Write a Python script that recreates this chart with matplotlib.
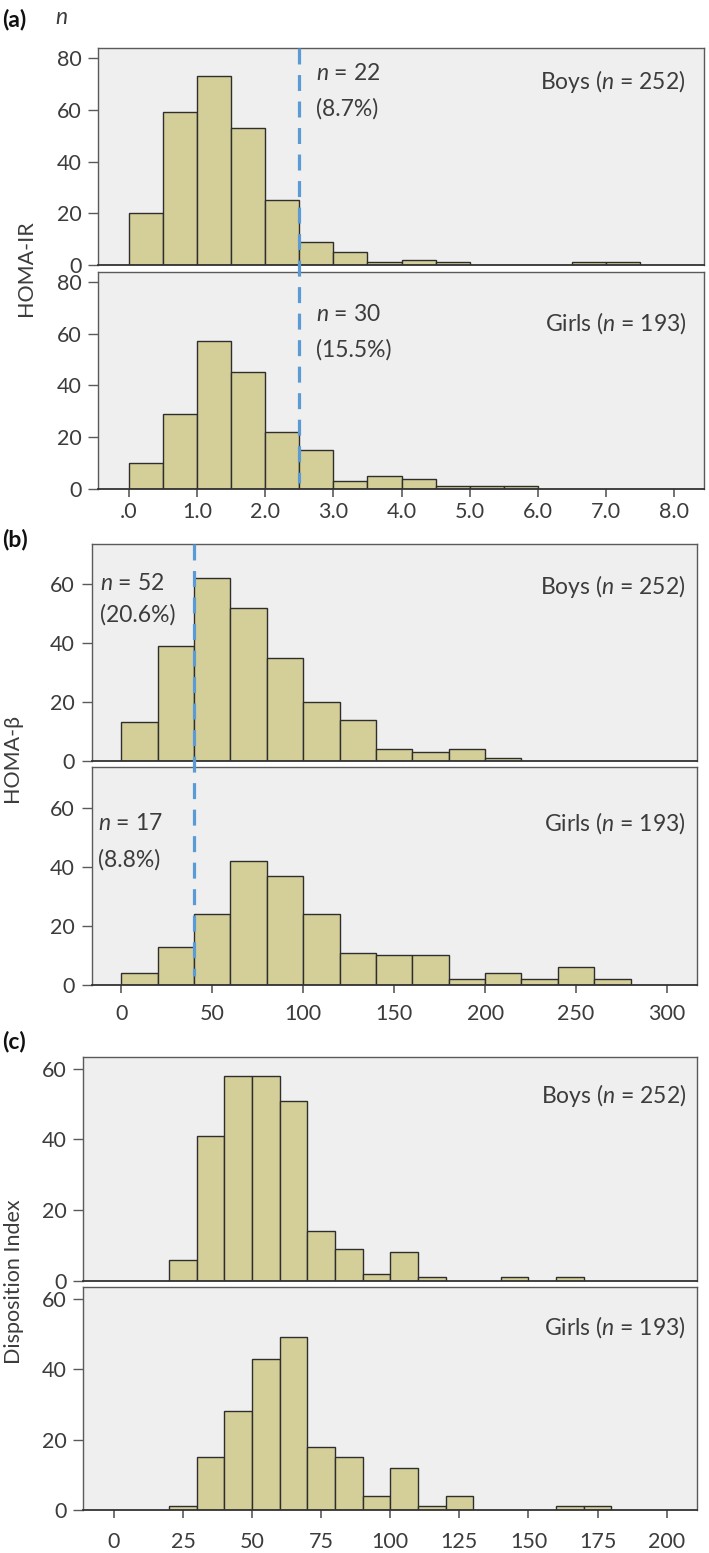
import numpy as np
import matplotlib
matplotlib.use("Agg")
import matplotlib.pyplot as plt
from matplotlib.lines import Line2D
from matplotlib.transforms import blended_transform_factory

plt.rcParams['font.family'] = ['Lato', 'DejaVu Sans']
plt.rcParams['mathtext.fontset'] = 'custom'
plt.rcParams['mathtext.it'] = 'Lato:italic'
plt.rcParams['mathtext.rm'] = 'Lato'

# HOMA-IR, bins of 0.5
ir_left = [0.0, 0.5, 1.0, 1.5, 2.0, 2.5, 3.0, 3.5, 4.0, 4.5, 5.0, 5.5, 6.0, 6.5, 7.0]
ir_boys = [20, 59, 73, 53, 25, 9, 5, 1, 2, 1, 0, 0, 0, 1, 1]
ir_girls = [10, 29, 57, 45, 22, 15, 3, 5, 4, 1, 1, 1, 0, 0, 0]
ir_ticks = [0, 1, 2, 3, 4, 5, 6, 7, 8]
ir_ticklabels = [".0", "1.0", "2.0", "3.0", "4.0", "5.0", "6.0", "7.0", "8.0"]
ir_cut = 2.5

# HOMA-beta, bins of 20
beta_left = [0, 20, 40, 60, 80, 100, 120, 140, 160, 180, 200, 220, 240, 260]
beta_boys = [13, 39, 62, 52, 35, 20, 14, 4, 3, 4, 1, 0, 0, 0]
beta_girls = [4, 13, 24, 42, 37, 24, 11, 10, 10, 2, 4, 2, 6, 2]
beta_ticks = [0, 50, 100, 150, 200, 250, 300]
beta_cut = 40

# disposition index, bins of 10
di_left = [20, 30, 40, 50, 60, 70, 80, 90, 100, 110, 120, 130, 140, 150, 160, 170]
di_boys = [6, 41, 58, 58, 51, 14, 9, 2, 8, 1, 0, 0, 1, 0, 1, 0]
di_girls = [1, 15, 28, 43, 49, 18, 15, 4, 12, 1, 4, 0, 0, 0, 1, 1]
di_ticks = [0, 25, 50, 75, 100, 125, 150, 175, 200]

bar_color = "#d4cf98"
bar_edge = "#2e2e2e"
bg_color = "#efefef"
frame_color = "#5a5a5a"
cut_color = "#5b9bd5"
txt_color = "#3c3c3c"
fs = 15.5       # tick labels / axis labels
fs_note = 16.5  # annotations

W, H = 709, 1553
fig = plt.figure(figsize=(W / 100, H / 100), dpi=100)


def px_axes(left, right, top, bottom):
    return fig.add_axes([left / W, 1 - bottom / H, (right - left) / W, (bottom - top) / H])


def hist(ax, left, counts, width, xlim, ylim, yticks, xticks=None, xticklabels=None, xpad=4):
    lefts = [l for l, c in zip(left, counts) if c > 0]
    heights = [c for c in counts if c > 0]
    ax.bar(lefts, heights, width=width, align="edge", color=bar_color,
           edgecolor=bar_edge, linewidth=1.0, zorder=2)
    ax.set_facecolor(bg_color)
    ax.set_xlim(*xlim)
    ax.set_ylim(*ylim)
    ax.set_yticks(yticks)
    ax.tick_params(axis="y", length=7, width=1, pad=5, colors=frame_color,
                   labelsize=fs, labelcolor=txt_color)
    if xticks is None:
        ax.set_xticks([])
    else:
        ax.set_xticks(xticks)
        if xticklabels is not None:
            ax.set_xticklabels(xticklabels)
        ax.tick_params(axis="x", length=6, width=1.2, pad=xpad, colors=frame_color,
                       labelsize=fs, labelcolor=txt_color)
    for s in ax.spines.values():
        s.set_color(frame_color)
        s.set_linewidth(1.0)
    ax.spines["bottom"].set_color("#333333")
    ax.spines["bottom"].set_linewidth(1.3)


def note(ax, x, y, s, ha="left"):
    ax.text(x, y, s, transform=ax.transAxes, ha=ha, va="center",
            fontsize=fs_note, color=txt_color, zorder=5)


def cut_line(ax, x, y_top, y_bottom):
    tr = blended_transform_factory(ax.transData, fig.transFigure)
    ln = Line2D([x, x], [1 - y_top / H, 1 - y_bottom / H], transform=tr,
                color=cut_color, linewidth=2.3, linestyle=(0, (5, 3.3)), zorder=10)
    fig.add_artist(ln)


# panel (a)
a1 = px_axes(98, 704, 48.3, 265)
a2 = px_axes(98, 704, 272, 489)
hist(a1, ir_left, ir_boys, 0.5, (-0.455, 8.44), (0, 83.8), [0, 20, 40, 60, 80])
hist(a2, ir_left, ir_girls, 0.5, (-0.455, 8.44), (0, 83.8), [0, 20, 40, 60, 80],
     ir_ticks, ir_ticklabels, xpad=3)
note(a1, 0.359, 0.885, "$n$ = 22")
note(a1, 0.359, 0.723, "(8.7%)")
note(a1, 0.970, 0.846, "Boys ($n$ = 252)", ha="right")
note(a2, 0.359, 0.802, "$n$ = 30")
note(a2, 0.359, 0.641, "(15.5%)")
note(a2, 0.971, 0.764, "Girls ($n$ = 193)", ha="right")
cut_line(a2, ir_cut, 48.3, 483)

# panel (b)
b1 = px_axes(91.7, 697, 544, 760.7)
b2 = px_axes(91.7, 697, 767.3, 985)
hist(b1, beta_left, beta_boys, 20, (-16.3, 316.5), (0, 73.7), [0, 20, 40, 60])
hist(b2, beta_left, beta_girls, 20, (-16.3, 316.5), (0, 73.7), [0, 20, 40, 60],
     beta_ticks, xpad=8)
note(b1, 0.014, 0.819, "$n$ = 52")
note(b1, 0.014, 0.672, "(20.6%)")
note(b1, 0.981, 0.803, "Boys ($n$ = 252)", ha="right")
note(b2, 0.011, 0.743, "$n$ = 17")
note(b2, 0.011, 0.574, "(8.8%)")
note(b2, 0.981, 0.743, "Girls ($n$ = 193)", ha="right")
cut_line(b2, beta_cut, 544, 976)

# panel (c)
c1 = px_axes(83.3, 696.7, 1056.7, 1280.7)
c2 = px_axes(83.3, 696.7, 1286.7, 1510)
hist(c1, di_left, di_boys, 10, (-11.1, 210.9), (0, 63.4), [0, 20, 40, 60])
hist(c2, di_left, di_girls, 10, (-11.1, 210.9), (0, 63.4), [0, 20, 40, 60],
     di_ticks, xpad=10)
note(c1, 0.983, 0.829, "Boys ($n$ = 252)", ha="right")
note(c2, 0.982, 0.818, "Girls ($n$ = 193)", ha="right")

# y labels and panel letters
for x, y, s in [(32, 268, "HOMA-IR"), (18, 758, "HOMA-β"), (20, 1282, "Disposition Index")]:
    fig.text(x / W, 1 - y / H, s, rotation=90, rotation_mode="anchor",
             ha="center", va="baseline", fontsize=fs, color=txt_color)

for y, s in [(19, "(a)"), (540, "(b)"), (1042, "(c)")]:
    fig.text(2 / W, 1 - y / H, s, ha="left", va="center", fontsize=16.5,
             fontweight="bold", color="#111111")
fig.text(55 / W, 1 - 17 / H, "$n$", ha="left", va="center", fontsize=fs_note, color=txt_color)

fig.savefig("out.png", dpi=100, facecolor="white")
